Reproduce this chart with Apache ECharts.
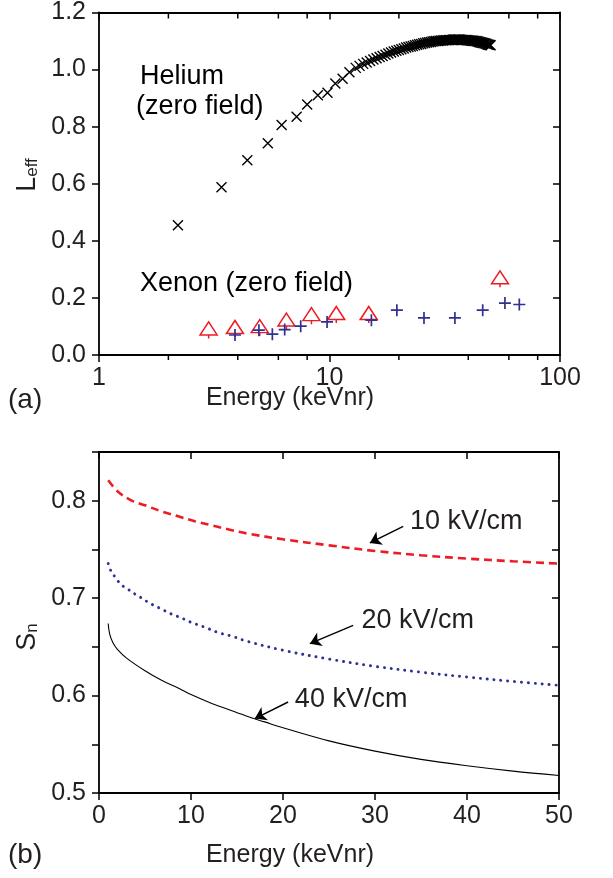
<!DOCTYPE html>
<html><head><meta charset="utf-8">
<script src="https://cdn.jsdelivr.net/npm/echarts@6/dist/echarts.min.js"></script>
<style>html,body{margin:0;padding:0;background:#fff}#c{width:613px;height:878px}</style>
</head><body><div id="c"></div>
<script>
// ---------- Panel (a) data ----------
const heliumEnergy = [2.2, 3.4, 4.4, 5.4, 6.2, 7.2, 8.0, 8.9, 9.8, 10.6, 11.4, 12.2, 13.0, 13.5,
  14.0, 14.5, 15.0, 15.5, 16.0, 16.5, 17.0, 17.5, 18.0, 18.5, 19.0, 19.5, 20.0, 20.5, 21.0, 21.5,
  22.0, 22.5, 23.0, 23.5, 24.0, 24.5, 25.0, 25.5, 26.0, 26.5, 27.0, 27.5, 28.0, 28.5, 29.0, 29.5,
  30.0, 30.5, 31.0, 31.5, 32.0, 32.5, 33.0, 33.5, 34.0, 34.5, 35.0, 35.5, 36.0, 36.5, 37.0, 37.5,
  38.0, 38.5, 39.0, 39.5, 40.0, 40.5, 41.0, 41.5, 42.0, 42.5, 43.0, 43.5, 44.0, 44.5, 45.0, 45.5,
  46.0, 46.5, 47.0, 47.5, 48.0, 48.5, 49.0, 49.5, 50.0];
const heliumLeff = [0.455, 0.588, 0.682, 0.742, 0.806, 0.835, 0.878, 0.910, 0.919, 0.951, 0.968, 0.991, 1.006, 1.013,
  1.020, 1.025, 1.030, 1.035, 1.040, 1.044, 1.048, 1.052, 1.056, 1.060, 1.063, 1.066, 1.069, 1.071, 1.074, 1.077,
  1.079, 1.081, 1.083, 1.085, 1.087, 1.089, 1.090, 1.092, 1.093, 1.095, 1.096, 1.097, 1.098, 1.099, 1.100, 1.100,
  1.101, 1.102, 1.102, 1.103, 1.103, 1.103, 1.104, 1.104, 1.104, 1.105, 1.105, 1.105, 1.105, 1.105, 1.105, 1.104,
  1.104, 1.104, 1.104, 1.103, 1.103, 1.102, 1.102, 1.101, 1.101, 1.100, 1.100, 1.099, 1.098, 1.097, 1.096, 1.095,
  1.094, 1.093, 1.092, 1.091, 1.090, 1.088, 1.087, 1.086, 1.085];
const xenonPlusEnergy = [3.89, 4.94, 5.65, 6.39, 7.5, 9.76, 15.2, 19.6, 25.7, 35.0, 46.2, 57.7, 66.6];
const xenonPlusLeff   = [0.070, 0.087, 0.073, 0.089, 0.101, 0.116, 0.122, 0.157, 0.130, 0.130, 0.157, 0.182, 0.177];
const xenonTriEnergy = [2.99, 3.89, 4.98, 6.5, 8.35, 10.7, 14.8, 54.9];
const xenonTriLeff   = [0.093, 0.098, 0.101, 0.124, 0.143, 0.147, 0.147, 0.272];
const logMinorTicks = [2, 4, 6, 8, 20, 40, 60, 80];

// ---------- Panel (b) data ----------
const sn10Energy = [1.0, 2.1, 3.5, 5.0, 6.8, 8.6, 10.4, 12.2, 14.0, 16.2, 20, 25, 30, 35, 40, 45, 50];
const sn10Value  = [0.821, 0.809, 0.8004, 0.7953, 0.789, 0.784, 0.779, 0.7748, 0.7707, 0.7662, 0.7604, 0.7542, 0.7484, 0.744, 0.7406, 0.7378, 0.7355];
const sn20Energy = [1.0, 1.3, 1.8, 2.4, 3.2, 4.0, 4.7, 5.4, 6.2, 7.0, 7.7, 8.5, 9.3, 10, 11.5, 13, 14.5, 16, 20, 25, 30, 35, 40, 45, 50];
const sn20Value  = [0.7355, 0.7279, 0.7211, 0.7139, 0.7088, 0.7036, 0.6998, 0.6954, 0.6916, 0.6878, 0.6844, 0.6814, 0.6783, 0.6752, 0.6701, 0.6646, 0.6608, 0.656, 0.6465, 0.6375, 0.630, 0.624, 0.619, 0.6145, 0.6105];
const sn40Energy = [1.0, 1.15, 1.5, 2.0, 3.0, 5.0, 6.8, 8.6, 10, 12, 14, 16, 18, 20, 25, 30, 35, 40, 45, 50];
const sn40Value  = [0.674, 0.6635, 0.6545, 0.6475, 0.6385, 0.6255, 0.6157, 0.6078, 0.601, 0.593, 0.586, 0.579, 0.573, 0.567, 0.5535, 0.543, 0.5345, 0.528, 0.5225, 0.518];
const fieldLabels = ['10 kV/cm', '20 kV/cm', '40 kV/cm'];
const fieldLabelPos = [[33.8, 0.7782], [28.54, 0.6773], [21.29, 0.5955]];
const arrowFrom = [[33.07, 0.7737], [27.63, 0.6721], [20.56, 0.5934]];
const arrowTo   = [[29.44, 0.7566], [22.92, 0.6533], [16.94, 0.5764]];

const zip = (a, b) => a.map((v, i) => [v, b[i]]);
const FONT = '"Liberation Sans", Arial, Helvetica, sans-serif';
const TXT = '#231f20';
const axisLineStyle = { color: '#000', width: 1.8 };
const tickStyle = { color: '#000', width: 1.5 };

function baseAxis(extra) {
  return Object.assign({
    axisLine: { show: true, onZero: false, lineStyle: axisLineStyle },
    axisTick: { show: true, inside: false, length: 7, lineStyle: tickStyle },
    axisLabel: { show: true, fontSize: 25, color: TXT, fontFamily: FONT },
    splitLine: { show: false },
    minorTick: { show: false }
  }, extra);
}
function mirror(a) {
  a.axisTick = { show: true, inside: true, length: 7, lineStyle: tickStyle };
  a.axisLabel = { show: false };
  return a;
}

const chart = echarts.init(document.getElementById('c'), null, { renderer: 'canvas' });
const option = {
  animation: false,
  backgroundColor: '#fff',
  grid: [
    { left: 99, top: 10, width: 461, height: 345 },
    { left: 99, top: 452, width: 460, height: 341 }
  ],
  xAxis: [
    baseAxis({ gridIndex: 0, type: 'log', logBase: 10, min: 1, max: 100, position: 'bottom',
      axisLabel: { fontSize: 25, color: TXT, fontFamily: FONT, margin: 11 } }),
    mirror(baseAxis({ gridIndex: 0, type: 'log', logBase: 10, min: 1, max: 100, position: 'top' })),
    baseAxis({ gridIndex: 1, type: 'value', min: 0, max: 50, interval: 10, position: 'bottom',
      axisLabel: { fontSize: 25, color: TXT, fontFamily: FONT, margin: 11 } }),
    mirror(baseAxis({ gridIndex: 1, type: 'value', min: 0, max: 50, interval: 10, position: 'top' }))
  ],
  yAxis: [
    baseAxis({ gridIndex: 0, type: 'value', min: 0, max: 1.2, interval: 0.2, position: 'left',
      axisLabel: { fontSize: 25, color: TXT, fontFamily: FONT, margin: 13, formatter: v => v.toFixed(1) } }),
    mirror(baseAxis({ gridIndex: 0, type: 'value', min: 0, max: 1.2, interval: 0.2, position: 'right' })),
    baseAxis({ gridIndex: 1, type: 'value', min: 0.5, max: 0.85, interval: 0.05, position: 'left',
      axisLabel: { fontSize: 25, color: TXT, fontFamily: FONT, margin: 13,
        formatter: v => (Math.abs(v * 10 - Math.round(v * 10)) < 1e-6 ? v.toFixed(1) : '') } }),
    mirror(baseAxis({ gridIndex: 1, type: 'value', min: 0.5, max: 0.85, interval: 0.05, position: 'right' }))
  ],
  series: [
    {
      type: 'custom', xAxisIndex: 0, yAxisIndex: 0, clip: false, silent: true, z: 5,
      data: logMinorTicks.map(v => [v, 0]),
      renderItem: (params, api) => {
        const v = api.value(0);
        const pb = api.coord([v, 0]);
        const pt = api.coord([v, 1.2]);
        return { type: 'group', children: [
          { type: 'line', shape: { x1: pb[0], y1: pb[1], x2: pb[0], y2: pb[1] + 5 }, style: { stroke: '#000', lineWidth: 1.5 } },
          { type: 'line', shape: { x1: pt[0], y1: pt[1], x2: pt[0], y2: pt[1] + 6 }, style: { stroke: '#000', lineWidth: 1.5 } }
        ] };
      }
    },
    {
      name: 'Helium', type: 'scatter', xAxisIndex: 0, yAxisIndex: 0, silent: true,
      data: zip(heliumEnergy, heliumLeff),
      symbol: 'path://M0,0L10,10M10,0L0,10', symbolSize: 10,
      itemStyle: { color: 'rgba(0,0,0,0)', borderColor: '#000', borderWidth: 1.4, opacity: 1 }
    },
    {
      name: 'Xenon tri', type: 'scatter', xAxisIndex: 0, yAxisIndex: 0, silent: true,
      data: zip(xenonTriEnergy, xenonTriLeff),
      symbol: 'path://M0,13L8.5,0L17,13Z M8.5,13L8.5,16.5', symbolSize: [17, 16.5], symbolOffset: [0, 1.7],
      itemStyle: { color: 'rgba(0,0,0,0)', borderColor: '#ed1c24', borderWidth: 1.5, opacity: 1 }
    },
    {
      name: 'Xenon plus', type: 'scatter', xAxisIndex: 0, yAxisIndex: 0, silent: true,
      data: zip(xenonPlusEnergy, xenonPlusLeff),
      symbol: 'path://M6,0L6,12M0,6L12,6', symbolSize: 12,
      itemStyle: { color: 'rgba(0,0,0,0)', borderColor: '#2e3192', borderWidth: 1.7, opacity: 1 }
    },
    {
      name: '10 kV/cm', type: 'line', xAxisIndex: 2, yAxisIndex: 2, silent: true, smooth: 0.35,
      showSymbol: false, data: zip(sn10Energy, sn10Value),
      lineStyle: { color: '#ed1c24', width: 2.6, type: [8, 5] }
    },
    {
      name: '20 kV/cm', type: 'line', xAxisIndex: 2, yAxisIndex: 2, silent: true, smooth: 0.35,
      showSymbol: false, data: zip(sn20Energy, sn20Value),
      lineStyle: { color: '#2e3192', width: 2.9, type: [0.1, 6.8], cap: 'round' }
    },
    {
      name: '40 kV/cm', type: 'line', xAxisIndex: 2, yAxisIndex: 2, silent: true, smooth: 0.35,
      showSymbol: false, data: zip(sn40Energy, sn40Value),
      lineStyle: { color: '#000', width: 1.1 }
    },
    {
      name: 'labels', type: 'scatter', xAxisIndex: 2, yAxisIndex: 2, silent: true,
      symbolSize: 0, itemStyle: { opacity: 1, color: '#000' },
      data: fieldLabelPos.map((p, i) => ({ value: p, name: fieldLabels[i] })),
      label: { show: true, position: 'right', distance: 0, formatter: p => p.name,
        fontSize: 27, color: '#231f20', opacity: 1, fontFamily: FONT },
      markLine: {
        silent: true, symbol: ['none', 'arrow'], symbolSize: 11,
        lineStyle: { color: '#000', width: 1.4, type: 'solid', opacity: 1 },
        label: { show: false },
        data: arrowFrom.map((f, i) => [{ coord: f }, { coord: arrowTo[i] }])
      }
    }
  ],
  graphic: [
    { type: 'text', x: 140, y: 77, style: { text: 'Helium', font: '27px ' + FONT, fill: '#000', verticalAlign: 'middle' } },
    { type: 'text', x: 136, y: 107, style: { text: '(zero field)', font: '27px ' + FONT, fill: '#000', verticalAlign: 'middle' } },
    { type: 'text', x: 140, y: 284, style: { text: 'Xenon (zero field)', font: '27px ' + FONT, fill: '#000', verticalAlign: 'middle' } },
    { type: 'text', x: 290, y: 398, style: { text: 'Energy (keVnr)', font: '25px ' + FONT, fill: TXT, align: 'center', verticalAlign: 'middle' } },
    { type: 'text', x: 8, y: 400, style: { text: '(a)', font: '28px ' + FONT, fill: TXT, verticalAlign: 'middle' } },
    { type: 'text', x: 290, y: 855, style: { text: 'Energy (keVnr)', font: '25px ' + FONT, fill: TXT, align: 'center', verticalAlign: 'middle' } },
    { type: 'text', x: 8, y: 855, style: { text: '(b)', font: '28px ' + FONT, fill: TXT, verticalAlign: 'middle' } },
    { type: 'text', x: 26, y: 175, rotation: Math.PI / 2,
      style: { text: '{a|L}{b|eff}', align: 'center', verticalAlign: 'middle',
        rich: { a: { fontSize: 27, fontFamily: FONT, fill: TXT, color: TXT, verticalAlign: 'bottom', lineHeight: 30 },
                b: { fontSize: 17, fontFamily: FONT, fill: TXT, color: TXT, verticalAlign: 'bottom', lineHeight: 22 } } } },
    { type: 'text', x: 26, y: 637, rotation: Math.PI / 2,
      style: { text: '{a|S}{b|n}', align: 'center', verticalAlign: 'middle',
        rich: { a: { fontSize: 27, fontFamily: FONT, fill: TXT, color: TXT, verticalAlign: 'bottom', lineHeight: 30 },
                b: { fontSize: 17, fontFamily: FONT, fill: TXT, color: TXT, verticalAlign: 'bottom', lineHeight: 22 } } } }
  ]
};
chart.setOption(option);
</script>
</body></html>
